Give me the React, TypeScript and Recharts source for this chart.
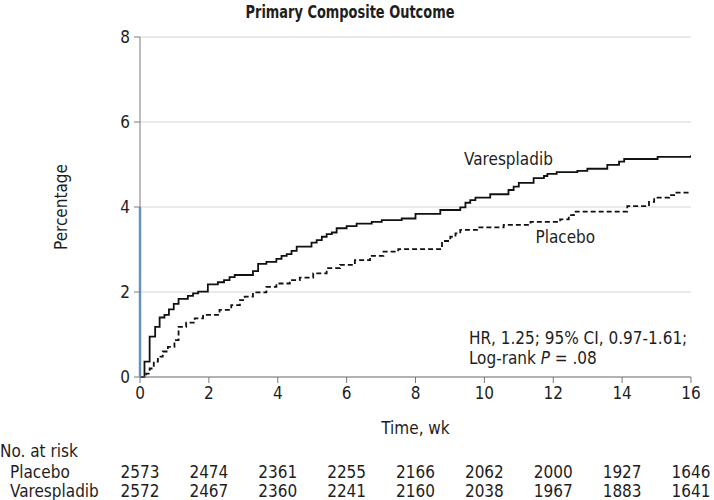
import React from "react";
import {
  LineChart,
  Line,
  XAxis,
  YAxis,
  CartesianGrid,
  ReferenceLine,
  ReferenceDot,
} from "recharts";

const FONT = "'Liberation Sans Narrow', 'DejaVu Sans Condensed', 'Arial Narrow', sans-serif";

// Kaplan-Meier style cumulative incidence (%), time in weeks
const varesTimes = [0, 0.13, 0.28, 0.44, 0.57, 0.71, 0.84, 0.98, 1.12, 1.39, 1.54, 1.69, 1.97, 2.26, 2.44, 2.6, 2.75, 3.28, 3.43, 3.67, 3.96, 4.11, 4.26, 4.4, 4.55, 4.98, 5.13, 5.28, 5.42, 5.57, 5.71, 6.0, 6.29, 6.73, 7.02, 7.6, 8.0, 8.72, 9.3, 9.45, 9.59, 9.74, 10.17, 10.7, 10.85, 11.0, 11.43, 11.73, 11.83, 12.1, 12.7, 12.99, 13.57, 13.91, 14.06, 15.03, 16];
const varesValues = [0, 0.36, 0.95, 1.18, 1.4, 1.46, 1.59, 1.72, 1.84, 1.91, 1.97, 2.01, 2.18, 2.23, 2.28, 2.35, 2.4, 2.49, 2.66, 2.71, 2.78, 2.85, 2.89, 2.97, 3.07, 3.16, 3.22, 3.3, 3.36, 3.4, 3.5, 3.55, 3.61, 3.65, 3.69, 3.73, 3.84, 3.93, 3.99, 4.1, 4.16, 4.22, 4.3, 4.4, 4.48, 4.57, 4.68, 4.73, 4.78, 4.82, 4.85, 4.9, 4.99, 5.07, 5.13, 5.18, 5.22];

const placeboTimes = [0, 0.18, 0.28, 0.4, 0.52, 0.66, 0.81, 1.0, 1.12, 1.34, 1.59, 1.83, 2.31, 2.65, 2.9, 3.04, 3.28, 3.67, 3.96, 4.35, 4.64, 5.03, 5.42, 5.81, 6.24, 6.68, 7.07, 7.5, 8.77, 9.01, 9.16, 9.3, 9.79, 10.56, 11.34, 12.2, 12.45, 12.6, 14.15, 14.78, 14.93, 15.37, 15.51, 16];
const placeboValues = [0, 0.08, 0.2, 0.36, 0.48, 0.6, 0.71, 0.87, 1.18, 1.28, 1.38, 1.46, 1.58, 1.69, 1.81, 1.89, 1.99, 2.12, 2.2, 2.28, 2.34, 2.44, 2.56, 2.64, 2.75, 2.85, 2.95, 3.01, 3.2, 3.3, 3.38, 3.46, 3.52, 3.58, 3.65, 3.71, 3.81, 3.89, 4.02, 4.12, 4.22, 4.28, 4.34, 4.34];

const xTicks = [0, 2, 4, 6, 8, 10, 12, 14, 16];
const yTicks = [0, 2, 4, 6, 8];

const placeboRisk = [2573, 2474, 2361, 2255, 2166, 2062, 2000, 1927, 1646];
const varesRisk = [2572, 2467, 2360, 2241, 2160, 2038, 1967, 1883, 1641];

const varesData = varesTimes.map((t, i) => ({ t, v: varesValues[i] }));
const placeboData = placeboTimes.map((t, i) => ({ t, v: placeboValues[i] }));

const TEXT = "#1e1e1e";
const AXIS = "#7a7a7a";
const FS = 17;

const makeRiskTick = (values: number[], name: string) => (props: any) => {
  const { x, y, payload } = props;
  const idx = xTicks.indexOf(payload.value);
  return (
    <g>
      <text x={x} y={y} dy="0.72em" textAnchor="middle" fill={TEXT} fontSize={FS} fontFamily={FONT}>
        {idx >= 0 ? values[idx] : ""}
      </text>
      {idx === 0 ? (
        <text x={10} y={y} dy="0.72em" textAnchor="start" fill={TEXT} fontSize={FS} fontFamily={FONT}>
          {name}
        </text>
      ) : null}
    </g>
  );
};

const textLabel = (lines: React.ReactNode[], anchor: "start" | "middle") => (props: any) => {
  const vb = props.viewBox || {};
  const cx = (vb.x ?? 0) + (vb.width ?? 0) / 2;
  const cy = (vb.y ?? 0) + (vb.height ?? 0) / 2;
  return (
    <text x={cx} y={cy} textAnchor={anchor} fill={TEXT} fontSize={FS} fontFamily={FONT}>
      {lines.map((l, i) => (
        <tspan key={i} x={cx} dy={i === 0 ? "0.35em" : "1.2em"}>
          {l}
        </tspan>
      ))}
    </text>
  );
};

const hrLines = [
  "HR, 1.25; 95% CI, 0.97-1.61;",
  <>
    Log-rank <tspan fontStyle="italic">P</tspan> = .08
  </>,
];

export default function App() {
  return (
    <div style={{ position: "absolute", left: 0, top: 0, width: 714, height: 500, background: "#fff" }}>
      <div
        style={{
          position: "absolute",
          left: 0,
          top: 0,
          width: 700,
          textAlign: "center",
          fontFamily: FONT,
          fontWeight: "bold",
          fontSize: 18,
          color: TEXT,
          lineHeight: "24px",
          transform: "scaleX(0.8)",
          transformOrigin: "350px 0",
        }}
      >
        Primary Composite Outcome
      </div>
      <LineChart
        width={714}
        height={500}
        margin={{ top: 37, right: 23, left: 80, bottom: 0 }}
        style={{ fontFamily: FONT }}
      >
        <CartesianGrid xAxisId="main" horizontal vertical={false} stroke="#d6d6d6" strokeWidth={1.2} />
        <XAxis
          xAxisId="main"
          dataKey="t"
          type="number"
          domain={[0, 16]}
          ticks={xTicks}
          height={84}
          allowDataOverflow
          stroke={AXIS}
          tickSize={6}
          tickMargin={4}
          tick={{ fill: TEXT, fontSize: FS, fontFamily: FONT }}
          label={(props: any) => {
            const vb = props.viewBox;
            return (
              <g>
                <text x={vb.x + vb.width / 2} y={vb.y + 57} textAnchor="middle" fill={TEXT} fontSize={FS} fontFamily={FONT}>
                  Time, wk
                </text>
                <text x={0} y={vb.y + 80} textAnchor="start" fill={TEXT} fontSize={FS} fontFamily={FONT}>
                  No. at risk
                </text>
              </g>
            );
          }}
        />
        <XAxis
          xAxisId="riskP"
          dataKey="t"
          type="number"
          domain={[0, 16]}
          ticks={xTicks}
          allowDataOverflow
          height={19}
          axisLine={false}
          tickLine={false}
          tickSize={0}
          tickMargin={5}
          tick={makeRiskTick(placeboRisk, "Placebo")}
        />
        <XAxis
          xAxisId="riskV"
          dataKey="t"
          type="number"
          domain={[0, 16]}
          ticks={xTicks}
          allowDataOverflow
          height={20}
          axisLine={false}
          tickLine={false}
          tickSize={0}
          tickMargin={5}
          tick={makeRiskTick(varesRisk, "Varespladib")}
        />
        <YAxis
          type="number"
          domain={[0, 8]}
          ticks={yTicks}
          width={60}
          stroke={AXIS}
          tickSize={6}
          tickMargin={4}
          tick={{ fill: TEXT, fontSize: FS, fontFamily: FONT }}
          label={(props: any) => {
            const vb = props.viewBox;
            const x = vb.x - 19;
            const y = vb.y + vb.height / 2;
            return (
              <text x={x} y={y} transform={`rotate(-90, ${x}, ${y})`} textAnchor="middle" dy="0.35em" fill={TEXT} fontSize={FS} fontFamily={FONT}>
                Percentage
              </text>
            );
          }}
        />
        {/* invisible carriers so the at-risk axes get a domain */}
        <Line xAxisId="riskP" data={placeboData} dataKey="v" stroke="none" dot={false} activeDot={false} legendType="none" isAnimationActive={false} />
        <Line xAxisId="riskV" data={varesData} dataKey="v" stroke="none" dot={false} activeDot={false} legendType="none" isAnimationActive={false} />
        <Line
          xAxisId="main"
          data={placeboData}
          dataKey="v"
          type="stepAfter"
          stroke="#111"
          strokeWidth={1.8}
          strokeDasharray="5 3"
          dot={false}
          isAnimationActive={false}
        />
        <Line
          xAxisId="main"
          data={varesData}
          dataKey="v"
          type="stepAfter"
          stroke="#111"
          strokeWidth={1.8}
          dot={false}
          isAnimationActive={false}
        />
        <ReferenceLine
          xAxisId="main"
          segment={[{ x: 0, y: 0 }, { x: 0, y: 4 }]}
          stroke="#5aa6ec"
          strokeWidth={2.5}
          ifOverflow="visible"
        />
        <ReferenceDot xAxisId="main" x={10.7} y={5.12} r={0} fill="none" stroke="none" label={textLabel(["Varespladib"], "middle")} />
        <ReferenceDot xAxisId="main" x={12.35} y={3.3} r={0} fill="none" stroke="none" label={textLabel(["Placebo"], "middle")} />
        <ReferenceDot xAxisId="main" x={9.55} y={0.92} r={0} fill="none" stroke="none" label={textLabel(hrLines, "start")} />
      </LineChart>
    </div>
  );
}
